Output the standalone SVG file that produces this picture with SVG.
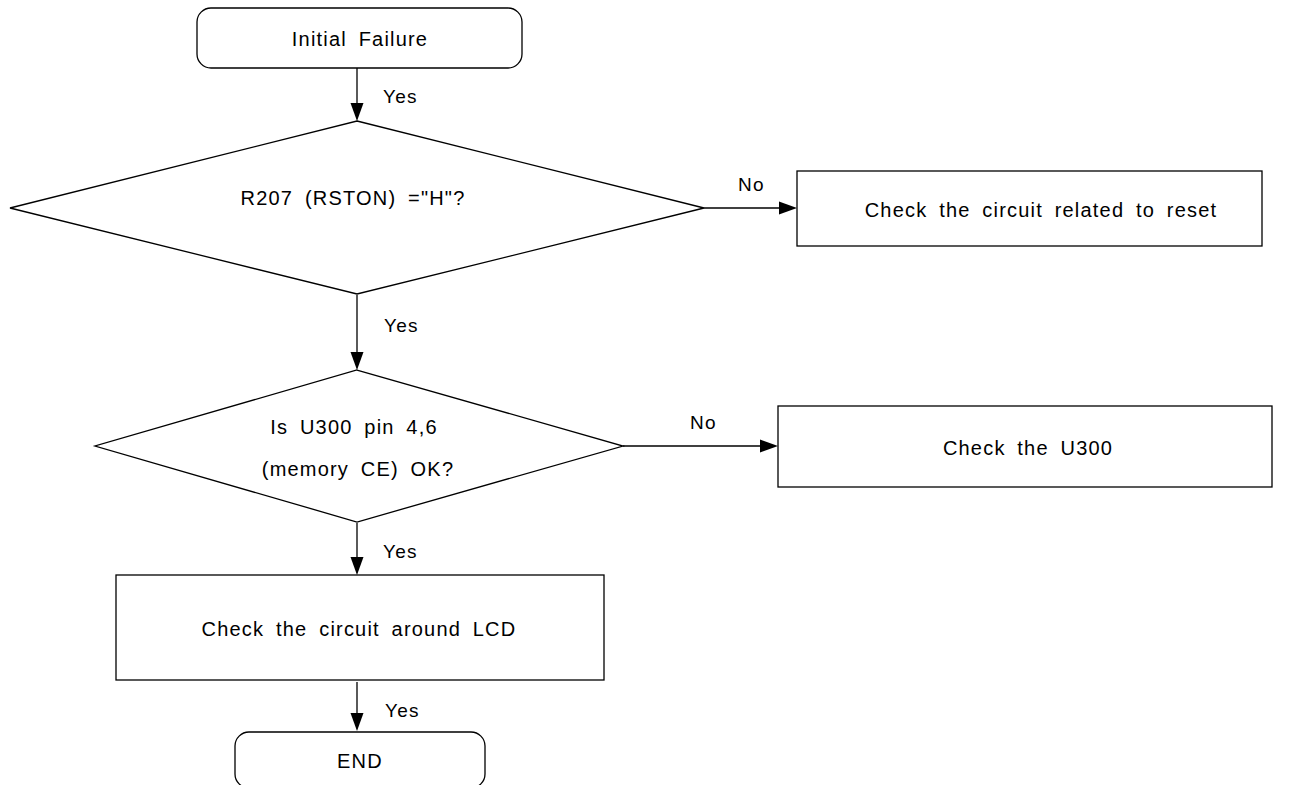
<svg xmlns="http://www.w3.org/2000/svg" width="1291" height="785" viewBox="0 0 1291 785">
<style>
.s{fill:#fff;stroke:#000;stroke-width:1.3}
.t{font-family:"Liberation Sans",Arial,sans-serif;font-size:20px;letter-spacing:1.2px;word-spacing:5px;fill:#000;text-anchor:middle}
.l{font-family:"Liberation Sans",Arial,sans-serif;font-size:19px;letter-spacing:1.2px;fill:#000}
.c{stroke:#000;stroke-width:1.3;fill:none}
.h{fill:#000}
</style>
<rect width="1291" height="785" fill="#fff"/>
<g id="connectors">
<path class="c" d="M357,68 V104"/><path class="h" d="M350.5,103 L363.5,103 L357,121 z"/>
<path class="c" d="M704,208 H780"/><path class="h" d="M779,201.5 L779,214.5 L797,208 z"/>
<path class="c" d="M357,295 V353"/><path class="h" d="M350.5,352 L363.5,352 L357,370 z"/>
<path class="c" d="M623,446 H761"/><path class="h" d="M760,439.5 L760,452.5 L778,446 z"/>
<path class="c" d="M357,523 V558"/><path class="h" d="M350.5,557 L363.5,557 L357,575 z"/>
<path class="c" d="M357,682 V714"/><path class="h" d="M350.5,713 L363.5,713 L357,731 z"/>
<text class="l" x="383" y="103">Yes</text>
<text class="l" x="738" y="191">No</text>
<text class="l" x="384" y="332">Yes</text>
<text class="l" x="690" y="429">No</text>
<text class="l" x="383" y="558">Yes</text>
<text class="l" x="385" y="717">Yes</text>
</g>
<g id="start">
<rect class="s" x="197" y="8" width="325" height="60" rx="14"/>
<text class="t" x="360" y="46">Initial Failure</text>
</g>
<g id="d1">
<polygon class="s" points="357,121 704,208 357,294 10,208"/>
<text class="t" x="353" y="205">R207 (RSTON) ="H"?</text>
</g>
<g id="b1">
<rect class="s" x="797" y="171" width="465" height="75"/>
<text class="t" x="1041" y="217">Check the circuit related to reset</text>
</g>
<g id="d2">
<polygon class="s" points="357,370 623,446 357,522 95,446"/>
<text class="t" x="354" y="434">Is U300 pin 4,6</text>
<text class="t" x="358" y="476">(memory CE) OK?</text>
</g>
<g id="b2">
<rect class="s" x="778" y="406" width="494" height="81"/>
<text class="t" x="1028" y="455">Check the U300</text>
</g>
<g id="b3">
<rect class="s" x="116" y="575" width="488" height="105"/>
<text class="t" x="359" y="636">Check the circuit around LCD</text>
</g>
<g id="end">
<rect class="s" x="235" y="732" width="250" height="56" rx="14"/>
<text class="t" x="360" y="768">END</text>
</g>
</svg>
